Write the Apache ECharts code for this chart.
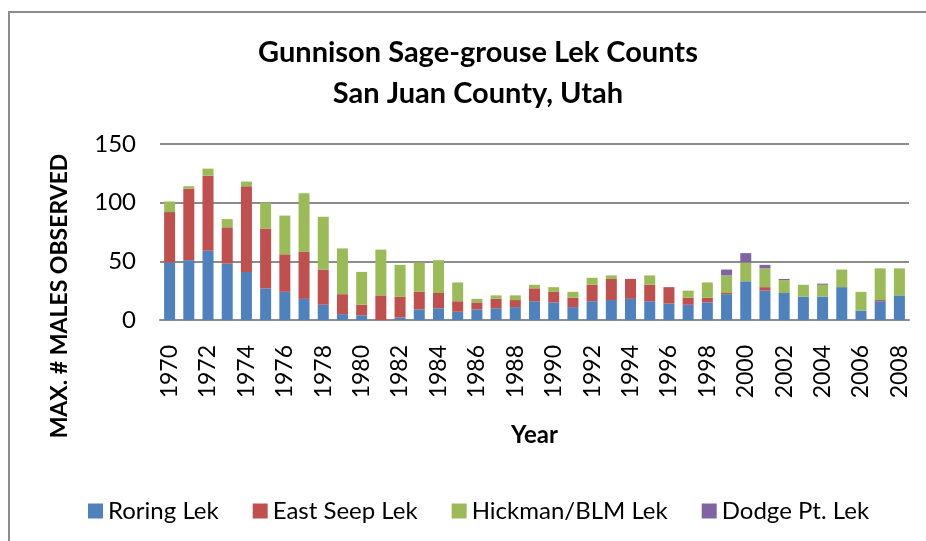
<!DOCTYPE html>
<html>
<head>
<meta charset="utf-8">
<script src="https://cdn.jsdelivr.net/npm/echarts@6/dist/echarts.min.js"></script>
<style>
    html, body { margin: 0; padding: 0; background: #fff; }
    #chart { width: 926px; height: 541px; }
</style>
</head>
<body>
<div id="chart"></div>
<script>
var years = [];
for (var y = 1970; y <= 2008; y++) {
    years.push(String(y));
}

// counts, 1970 .. 2008
var roringLek = [49, 51, 59, 48, 41, 27, 24, 18, 13, 5, 4, 0, 2, 9, 10, 7, 9, 10, 11, 16,
    15, 11, 16, 17, 18, 16, 14, 13, 15, 22, 33, 25, 23, 20, 20, 28, 8, 16, 21];
var eastSeepLek = [43, 61, 64, 31, 73, 51, 32, 40, 30, 17, 9, 21, 18, 15, 13, 9, 6, 8, 6, 11,
    9, 8, 14, 18, 17, 14, 14, 6, 4, 1, 0, 3, 0, 0, 0, 0, 0, 1, 0];
var hickmanLek = [9, 2, 6, 7, 4, 22, 33, 50, 45, 39, 28, 39, 27, 25, 28, 16, 3, 3, 4, 3,
    4, 5, 6, 3, 0, 8, 0, 6, 13, 15, 16, 16, 11, 10, 10, 15, 16, 27, 23];
var dodgeLek = [0, 0, 0, 0, 0, 0, 0, 0, 0, 0, 0, 0, 0, 0, 0, 0, 0, 0, 0, 0,
    0, 0, 0, 0, 0, 0, 0, 0, 0, 5, 8, 3, 1, 0, 1, 0, 0, 0, 0];

var seriesNames = ['Roring Lek', 'East Seep Lek', 'Hickman/BLM Lek', 'Dodge Pt. Lek'];
var seriesData = [roringLek, eastSeepLek, hickmanLek, dodgeLek];
var colors = ['#4F81BD', '#C0504D', '#9BBB59', '#8064A2'];

var font = 'Lato, "Open Sans", sans-serif';
var gridColor = '#8C8C8C';

var chart = echarts.init(document.getElementById('chart'));

var series = [];
for (var i = 0; i < seriesNames.length; i++) {
    series.push({
        name: seriesNames[i],
        type: 'bar',
        stack: 'total',
        barWidth: 11,
        itemStyle: {
            color: colors[i]
        },
        data: seriesData[i]
    });
}

chart.setOption({
    backgroundColor: '#fff',
    animation: false,
    color: colors,
    title: {
        text: 'Gunnison Sage-grouse Lek Counts\nSan Juan County, Utah',
        left: 473,
        top: 27,
        textAlign: 'center',
        textStyle: {
            fontFamily: font,
            fontWeight: 'bold',
            fontSize: 29,
            lineHeight: 41,
            color: '#000'
        }
    },
    legend: {
        left: 83,
        top: 494,
        itemWidth: 15,
        itemHeight: 15,
        itemGap: 34,
        icon: 'rect',
        textStyle: {
            fontFamily: font,
            fontSize: 24,
            color: '#000'
        },
        data: seriesNames
    },
    grid: {
        left: 160,
        right: 17,
        top: 144,
        bottom: 221,
        containLabel: false,
        outerBoundsMode: 'none'
    },
    xAxis: {
        type: 'category',
        data: years,
        name: 'Year',
        nameLocation: 'middle',
        nameGap: 115,
        nameTextStyle: {
            fontFamily: font,
            fontWeight: 'bold',
            fontSize: 24,
            color: '#000',
            verticalAlign: 'middle'
        },
        axisLine: { lineStyle: { color: gridColor, width: 2 } },
        axisTick: { show: false },
        axisLabel: {
            rotate: 90,
            interval: 1,
            margin: 25,
            fontFamily: font,
            fontSize: 23,
            color: '#000'
        }
    },
    yAxis: {
        type: 'value',
        min: 0,
        max: 150,
        interval: 50,
        axisLine: { show: false },
        axisTick: { show: false },
        axisLabel: {
            margin: 24,
            fontFamily: font,
            fontSize: 24,
            color: '#000'
        },
        splitLine: { lineStyle: { color: gridColor, width: 2 } }
    },
    graphic: [
        {
            type: 'rect',
            shape: { x: 9, y: 12, width: 960, height: 600 },
            style: { fill: 'none', stroke: gridColor, lineWidth: 2 },
            silent: true
        },
        {
            type: 'text',
            x: 60,
            y: 296,
            rotation: Math.PI / 2,
            style: {
                text: 'MAX. # MALES OBSERVED',
                fontFamily: font,
                fontWeight: 'bold',
                fontSize: 23,
                fill: '#000',
                textAlign: 'center',
                textVerticalAlign: 'middle'
            }
        }
    ],
    series: series
});
</script>
</body>
</html>
